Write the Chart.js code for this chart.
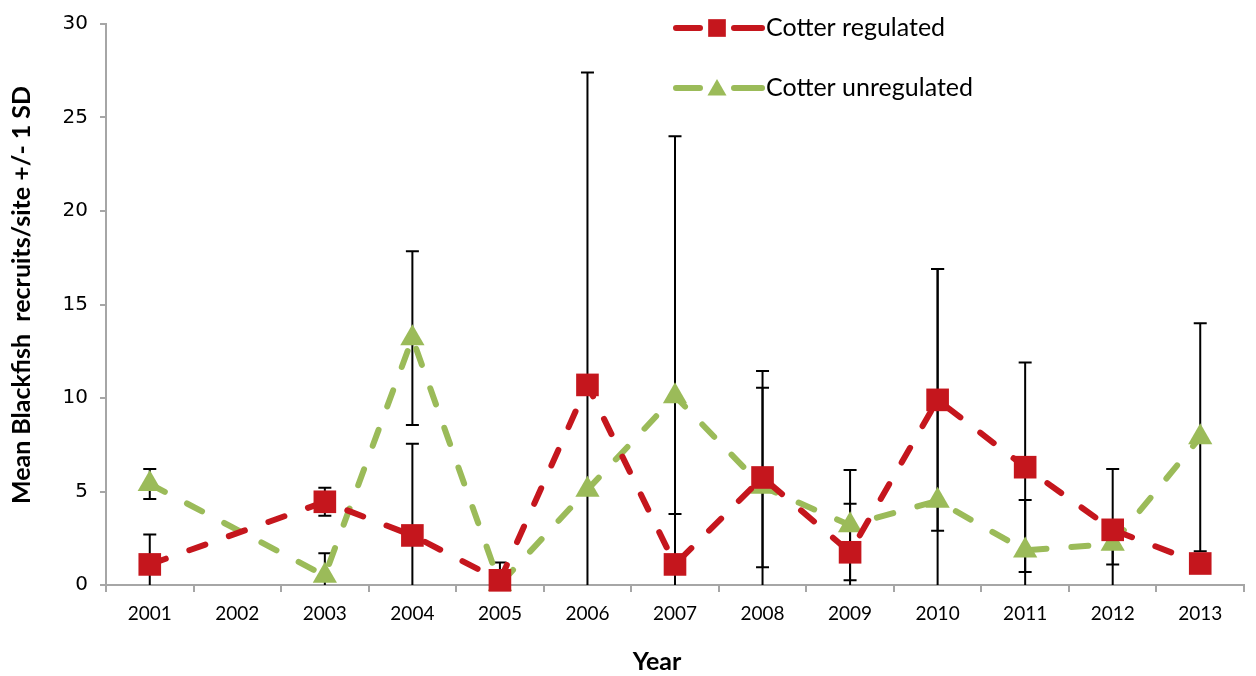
<!DOCTYPE html>
<html>
<head>
<meta charset="utf-8">
<script src="https://cdn.jsdelivr.net/npm/chart.js@4"></script>
<style>
  html, body { margin: 0; padding: 0; background: #fff; overflow: hidden; }
  #wrap { width: 1260px; height: 676px; }
</style>
</head>
<body>
<div id="wrap"><canvas id="grafico"></canvas></div>
<script>
// datos
const years = ['2001', '2002', '2003', '2004', '2005', '2006', '2007', '2008', '2009', '2010', '2011', '2012', '2013'];
const regulated = [1.1, null, 4.45, 2.65, 0.25, 10.7, 1.1, 5.75, 1.75, 9.9, 6.3, 2.95, 1.15];
const regulatedSd = [1.6, null, 0.75, 4.9, 0.95, 16.7, 2.7, 4.8, 2.6, 7.0, 5.6, 3.25, null];
const unregulated = [5.4, null, 0.5, 13.2, 0.05, 5.1, 10.1, 5.25, 3.2, 4.5, 1.85, 2.2, 7.9];
const unregulatedSd = [0.8, null, 1.2, 4.65, null, null, 13.9, 6.2, 2.95, 12.4, 2.7, 1.1, 6.1];
const yTicks = [0, 5, 10, 15, 20, 25, 30];

const rojo = '#C5161D';
const verde = '#9BBB59';
const gris = '#A6A6A6';
const fuente = 'Lato, "Liberation Sans", sans-serif';

// barras de error (+/- 1 SD), cortadas en cero
const barrasError = {
  id: 'barrasError',
  beforeDatasetsDraw(chart) {
    const ctx = chart.ctx;
    const y = chart.scales.y;
    ctx.save();
    ctx.strokeStyle = '#000';
    ctx.lineWidth = 2;
    chart.data.datasets.forEach((ds, i) => {
      const meta = chart.getDatasetMeta(i);
      ds.sd.forEach((sd, j) => {
        const v = ds.data[j];
        if (sd == null || v == null) return;
        const x = meta.data[j].x;
        const alto = y.getPixelForValue(v + sd);
        const bajoVal = v - sd;
        const bajo = y.getPixelForValue(Math.max(bajoVal, 0));
        ctx.beginPath();
        ctx.moveTo(x, alto);
        ctx.lineTo(x, bajo);
        ctx.moveTo(x - 6.5, alto);
        ctx.lineTo(x + 6.5, alto);
        if (bajoVal > 0) {
          ctx.moveTo(x - 6.5, bajo);
          ctx.lineTo(x + 6.5, bajo);
        }
        ctx.stroke();
      });
    });
    ctx.restore();
  }
};

// leyenda y titulos de ejes a mano
const leyenda = {
  id: 'leyenda',
  afterDraw(chart) {
    const ctx = chart.ctx;
    const filas = [{ y: 28 }, { y: 88 }];
    ctx.save();
    chart.data.datasets.forEach((ds, i) => {
      const fy = filas[i].y;
      ctx.strokeStyle = ds.borderColor;
      ctx.lineWidth = 6;
      ctx.lineCap = 'round';
      ctx.beginPath();
      ctx.moveTo(676, fy);
      ctx.lineTo(700, fy);
      ctx.moveTo(734, fy);
      ctx.lineTo(762, fy);
      ctx.stroke();
      ctx.fillStyle = ds.backgroundColor;
      Chart.helpers.drawPoint(ctx, {
        pointStyle: ds.pointStyle,
        radius: i === 0 ? 12.5 : 11,
        borderWidth: 0
      }, 717, i === 0 ? fy : fy + 2);
      ctx.fillStyle = '#000';
      ctx.font = '25px ' + fuente;
      ctx.textBaseline = 'middle';
      ctx.textAlign = 'left';
      ctx.fillText(ds.label, 766, fy);
    });

    ctx.font = 'bold 25px ' + fuente;
    ctx.textAlign = 'center';
    ctx.textBaseline = 'middle';
    ctx.fillText('Year', 657, 662);

    ctx.translate(22, 295);
    ctx.rotate(-Math.PI / 2);
    ctx.fillText('Mean Blackfish  recruits/site +/- 1 SD', 0, 0);
    ctx.restore();
  }
};

new Chart(document.getElementById('grafico'), {
  type: 'line',
  data: {
    labels: years,
    datasets: [{
      label: 'Cotter regulated',
      data: regulated,
      sd: regulatedSd,
      borderColor: rojo,
      backgroundColor: rojo,
      borderWidth: 6,
      borderDash: [17, 25],
      borderCapStyle: 'round',
      pointStyle: 'rect',
      pointRadius: 16,
      pointBorderWidth: 0,
      spanGaps: true,
      clip: false
    }, {
      label: 'Cotter unregulated',
      data: unregulated,
      sd: unregulatedSd,
      borderColor: verde,
      backgroundColor: verde,
      borderWidth: 6,
      borderDash: [17, 25],
      borderCapStyle: 'round',
      pointStyle: 'triangle',
      pointRadius: 14,
      pointBorderWidth: 0,
      spanGaps: true,
      clip: false
    }]
  },
  options: {
    responsive: true,
    maintainAspectRatio: false,
    animation: false,
    layout: { padding: { top: 20, right: 0, left: 0, bottom: 0 } },
    plugins: {
      legend: { display: false },
      tooltip: { enabled: false }
    },
    scales: {
      x: {
        offset: true,
        grid: { offset: true, drawOnChartArea: false, color: gris, tickLength: 7, lineWidth: 2 },
        border: { color: gris, width: 2 },
        ticks: { color: '#000', font: { family: fuente, size: 19 }, padding: 10, maxRotation: 0 },
        afterFit(s) { s.height = 91; }
      },
      y: {
        min: 0,
        max: 30,
        afterBuildTicks(s) { s.ticks = yTicks.map(v => ({ value: v })); },
        grid: { drawOnChartArea: false, color: gris, tickLength: 6, lineWidth: 2 },
        border: { color: gris, width: 2 },
        ticks: { color: '#000', font: { family: '"DejaVu Sans", sans-serif', size: 20 }, padding: 12 },
        afterFit(s) { s.width = 106; }
      }
    }
  },
  plugins: [barrasError, leyenda]
});
</script>
</body>
</html>
